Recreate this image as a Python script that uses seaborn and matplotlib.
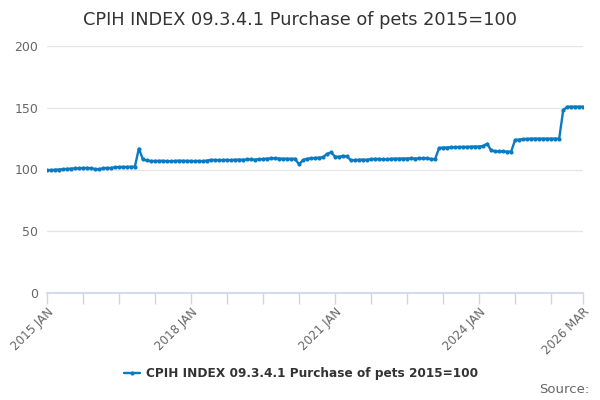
import pandas as pd
import numpy as np
import matplotlib.pyplot as plt
import seaborn as sns

# monthly index values, 2015 JAN .. 2026 MAR
values = [
    99.4, 99.5, 99.8, 100.0, 100.2, 100.5, 100.7, 100.9, 101.0, 101.2, 101.3, 101.0,
    100.4, 100.3, 100.9, 101.3, 101.2, 101.8, 102.0, 102.1, 102.1, 102.2, 102.3, 117.0,
    108.2, 107.3, 106.9, 106.9, 107.0, 107.0, 106.8, 106.7, 106.9, 107.1, 107.0, 107.0,
    106.9, 106.8, 106.9, 106.8, 107.2, 107.8, 107.7, 107.6, 107.7, 107.8, 107.6, 107.9,
    108.0, 107.9, 108.1, 108.2, 108.0, 108.3, 108.5, 108.8, 109.0, 109.1, 108.9, 108.7,
    108.8, 108.6, 108.7, 104.2, 107.6, 108.7, 109.0, 109.4, 109.6, 110.0, 112.6, 113.8,
    110.5, 110.3, 111.0, 110.6, 107.3, 107.7, 107.9, 108.0, 107.9, 108.4, 108.6, 108.5,
    108.3, 108.2, 108.7, 108.8, 108.8, 108.9, 108.9, 109.0, 108.9, 109.0, 109.1, 109.1,
    108.5, 108.4, 117.4, 117.8, 117.8, 118.0, 118.1, 118.2, 118.3, 118.3, 118.5, 118.6,
    118.6, 119.0, 120.9, 115.4, 114.8, 114.6, 114.6, 114.5, 114.5, 124.0, 124.2, 124.6,
    124.8, 125.0, 125.0, 125.0, 125.0, 125.0, 125.0, 125.0, 125.0, 148.0, 150.8, 150.9,
    150.9, 150.9, 150.9,
]
tick_pos = [0, 9, 18, 27, 36, 45, 54, 63, 72, 81, 90, 99, 108, 117, 126, 134]
tick_labels = ["2015 JAN", "", "", "", "2018 JAN", "", "", "", "2021 JAN",
               "", "", "", "2024 JAN", "", "", "2026 MAR"]
series_name = "CPIH INDEX 09.3.4.1 Purchase of pets 2015=100"

df = pd.DataFrame({"month": np.arange(len(values)), "value": values})

sns.set_theme(style="white")
plt.rcParams['font.family'] = ['DejaVu Sans']

fig = plt.figure(figsize=(6, 4), dpi=100)
ax = fig.add_axes([0.078, 0.2675, 0.894, 0.6175])

sns.lineplot(data=df, x="month", y="value", ax=ax, color="#0a7bc2",
             linewidth=1.7, marker="o", markersize=3, markeredgewidth=0,
             label=series_name)

ax.set_xlim(0, 134)
ax.set_ylim(0, 200)
ax.set_yticks([0, 50, 100, 150, 200])
ax.yaxis.grid(True, color="#e6e6e6", linewidth=1)
ax.set_xticks(tick_pos)
ax.set_xticklabels(tick_labels, rotation=45, ha="right", va="top", rotation_mode="anchor")
ax.tick_params(axis="x", colors="#ccd6eb", length=8, width=1, labelcolor="#666666",
               labelsize=8.6, direction="out", bottom=True, pad=1)
ax.tick_params(axis="y", length=0, labelcolor="#666666", labelsize=9, pad=6)
ax.set_xlabel("")
ax.set_ylabel("")
for s in ["left", "right", "top"]:
    ax.spines[s].set_visible(False)
ax.spines["bottom"].set_color("#ccd6eb")

fig.suptitle(series_name, x=0.5, y=0.972, fontsize=12.8, color="#333333")

leg = ax.legend(loc="center", bbox_to_anchor=(0.474, -0.325), frameon=False,
                fontsize=8.7, handlelength=1.3, handletextpad=0.5)
for t in leg.get_texts():
    t.set_color("#333333")
    t.set_fontweight("bold")

fig.text(0.982, 0.01, "Source:", ha="right", va="bottom", fontsize=9.5, color="#666666")

plt.savefig("out.png", dpi=100)
